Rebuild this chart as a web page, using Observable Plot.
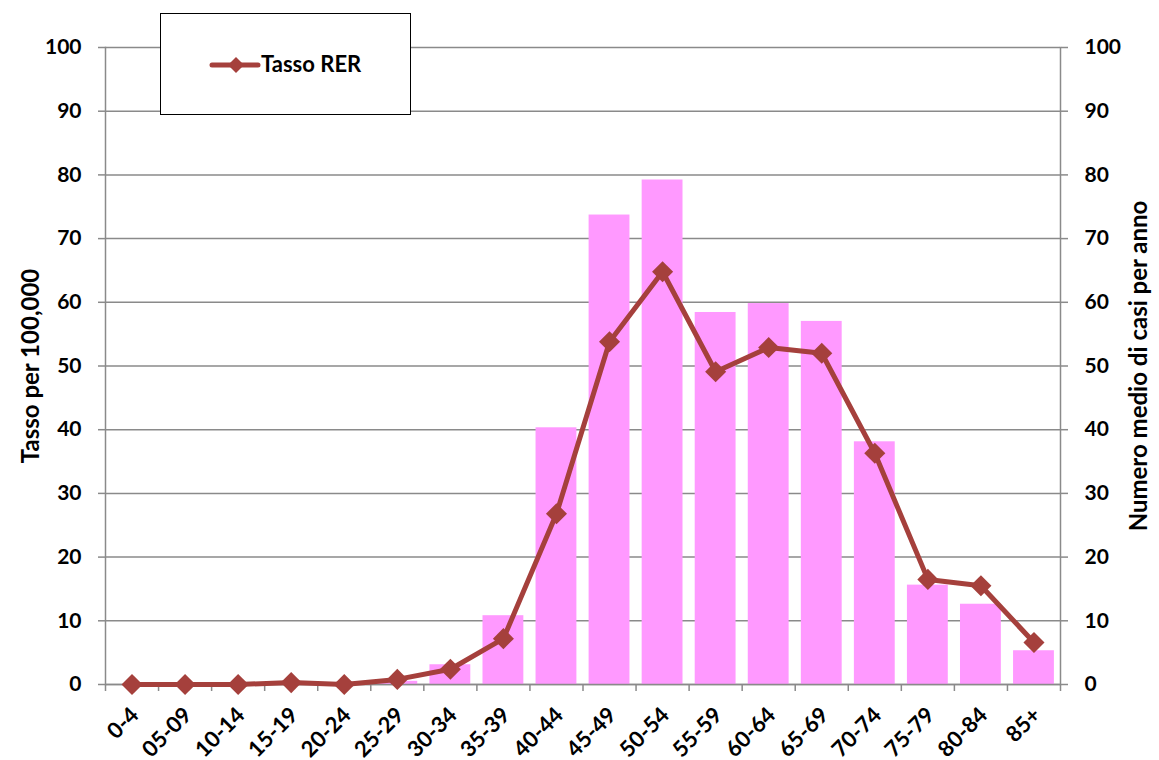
<!DOCTYPE html>
<html>
<head>
<meta charset="utf-8">
<script src="https://cdn.jsdelivr.net/npm/d3@7"></script>
<script src="https://cdn.jsdelivr.net/npm/@observablehq/plot@0.6"></script>
<style>
  body { margin: 0; background: #fff; font-family: Lato, "Open Sans", sans-serif; }
  #wrap { position: relative; width: 1159px; height: 760px; }
  #legend { position: absolute; left: 160px; top: 13px; width: 251px; height: 102px;
            border: 1px solid #000; background: #fff; box-sizing: border-box; }
  #legend svg { position: absolute; left: 0; top: 0; }
  #legend span { position: absolute; left: 100px; top: 36px; font: 700 22px Lato, sans-serif; color: #000; }
</style>
</head>
<body>
<div id="wrap">
  <div id="chart"></div>
  <div id="legend">
    <svg width="250" height="101"><line x1="51" y1="51" x2="97" y2="51" stroke="#A5403C" stroke-width="5" stroke-linecap="round"/><path d="M75,43L83,51L75,59L67,51Z" fill="#A5403C"/></svg>
    <span>Tasso RER</span>
  </div>
</div>
<script>
const categories = ["0-4","05-09","10-14","15-19","20-24","25-29","30-34","35-39","40-44","45-49","50-54","55-59","60-64","65-69","70-74","75-79","80-84","85+"];
// Numero medio di casi per anno (bars)
const casi = [0, 0, 0, 0, 0, 0.5, 3.1, 10.8, 40.3, 73.7, 79.2, 58.4, 59.8, 57.0, 38.1, 15.6, 12.6, 5.3];
// Tasso RER per 100,000 (line)
const tasso = [0, 0, 0, 0.3, 0, 0.8, 2.4, 7.2, 26.8, 53.8, 64.8, 49.1, 52.9, 52.0, 36.3, 16.5, 15.5, 6.6];
const yTicks = [0, 10, 20, 30, 40, 50, 60, 70, 80, 90, 100];

const data = categories.map((c, i) => ({age: c, casi: casi[i], tasso: tasso[i]}));

const W = 1159, H = 760, ML = 105, MR = 99, MT = 47, MB = 76;
const step = (W - ML - MR) / categories.length;
const axisColor = "#8a8a8a";
const lineColor = "#A5403C";

const chart = Plot.plot({
  width: W, height: H,
  marginLeft: ML, marginRight: MR, marginTop: MT, marginBottom: MB,
  style: {fontFamily: "Lato, sans-serif", fontWeight: 700, fontSize: "21px", color: "#000", background: "#fff", overflow: "visible"},
  x: {domain: categories, paddingInner: 0.23, paddingOuter: 0.115, round: false, label: null},
  y: {domain: [0, 100], label: null},
  marks: [
    Plot.gridY(yTicks, {stroke: axisColor, strokeOpacity: 1, strokeWidth: 1.5}),
    Plot.barY(data, {x: "age", y: "casi", fill: "#FF99FF"}),
    Plot.frame({anchor: "left", stroke: axisColor, strokeWidth: 1.5}),
    Plot.frame({anchor: "right", stroke: axisColor, strokeWidth: 1.5}),
    Plot.ruleY([0], {stroke: axisColor, strokeWidth: 1.5}),
    Plot.axisY(yTicks, {anchor: "left", tickSize: 7, tickPadding: 17, stroke: axisColor, strokeWidth: 1.5,
      label: null, fontSize: 21}),
    Plot.axisY({anchor: "left", ticks: [], label: "Tasso per 100,000", labelAnchor: "center", labelArrow: "none", labelOffset: 84, fontSize: 24}),
    Plot.axisY(yTicks, {anchor: "right", tickSize: 7, tickPadding: 17, stroke: axisColor, strokeWidth: 1.5,
      label: null, fontSize: 21}),
    Plot.axisY({anchor: "right", ticks: [], label: "Numero medio di casi per anno", labelAnchor: "center", labelArrow: "none", labelOffset: 86, fontSize: 24}),
    Plot.axisX({anchor: "bottom", tickSize: 7, tickFormat: () => "", dx: -step / 2, stroke: axisColor, strokeWidth: 1.5}),
    Plot.axisX([categories[categories.length - 1]], {anchor: "bottom", tickSize: 7, tickFormat: () => "", dx: step / 2, stroke: axisColor, strokeWidth: 1.5}),
    Plot.axisX({anchor: "bottom", tickSize: 0, tickRotate: -45, tickPadding: 27, dx: 3, fontSize: 22}),
    Plot.line(data, {x: "age", y: "tasso", stroke: lineColor, strokeWidth: 5}),
    Plot.dot(data, {x: "age", y: "tasso", symbol: "diamond2", r: 9.5, fill: lineColor, stroke: "none"})
  ]
});
document.getElementById("chart").appendChild(chart);
</script>
</body>
</html>
